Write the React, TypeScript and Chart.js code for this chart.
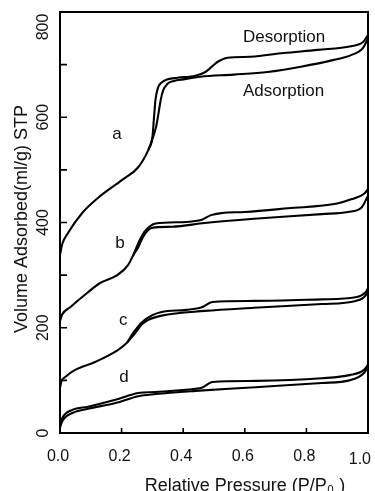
import React, { useEffect, useRef } from 'react';
import { Chart, registerables } from 'chart.js';

Chart.register(...registerables);

const FONT = '"Liberation Sans", Arial, Helvetica, sans-serif';

// Axis
const xMin = 0;
const xMax = 1;
const xStep = 0.2;
const yMin = 0;
const yMax = 800;
const yStep = 100;
const yLabelEvery = 200;
const xTitle = 'Relative Pressure (P/P\u2080 )';
const yTitle = 'Volume Adsorbed(ml/g) STP';

// Sample a
const aAdsX = [0, 0.008, 0.026, 0.072, 0.124, 0.202, 0.254, 0.287, 0.3, 0.312, 0.32, 0.327, 0.335, 0.348, 0.37, 0.4, 0.456, 0.564, 0.674, 0.782, 0.889, 0.945, 0.984, 1.0];
const aAdsY = [339, 360, 380, 418, 447, 481, 505, 538, 559, 582, 608, 633, 651, 663, 669, 672, 677, 681, 686, 696, 709, 718, 732, 750];
const aDesX = [0.287, 0.3, 0.305, 0.31, 0.318, 0.33, 0.35, 0.381, 0.44, 0.472, 0.489, 0.511, 0.544, 0.619, 0.726, 0.837, 0.945, 0.984, 1.0];
const aDesY = [538, 562, 598, 633, 656, 666, 672, 675, 679, 686, 694, 705, 713, 715, 722, 728, 735, 743, 756];

// Sample b
const bAdsX = [0, 0.007, 0.033, 0.088, 0.13, 0.186, 0.221, 0.238, 0.255, 0.27, 0.285, 0.3, 0.365, 0.47, 0.63, 0.85, 0.935, 0.98, 1.0];
const bAdsY = [213, 225, 239, 266, 285, 300, 319, 338, 354, 373, 385, 390, 392, 399, 407, 416, 420, 429, 451];
const bDesX = [0.238, 0.25, 0.261, 0.274, 0.29, 0.31, 0.41, 0.46, 0.49, 0.526, 0.6, 0.74, 0.9, 0.945, 0.99, 1.0];
const bDesY = [338, 355, 369, 382, 392, 398, 401, 405, 414, 418, 420, 427, 436, 444, 456, 464];

// Sample c
const cAdsX = [0, 0.005, 0.016, 0.049, 0.114, 0.189, 0.218, 0.244, 0.267, 0.287, 0.33, 0.47, 0.63, 0.85, 0.96, 0.993, 1.0];
const cAdsY = [86, 99, 106, 120, 135, 158, 172, 190, 207, 215, 223, 232, 238, 245, 251, 262, 271];
const cDesX = [0.218, 0.24, 0.267, 0.3, 0.33, 0.41, 0.46, 0.495, 0.63, 0.85, 0.96, 0.993, 1.0];
const cDesY = [172, 192, 211, 224, 230, 234, 239, 249, 251, 254, 258, 268, 275];

// Sample d
const dAdsX = [0, 0.007, 0.04, 0.091, 0.18, 0.254, 0.31, 0.44, 0.635, 0.85, 0.94, 0.987, 1.0];
const dAdsY = [10, 22, 38, 46, 57, 70, 74, 80, 87, 95, 100, 114, 126];
const dDesX = [0, 0.007, 0.04, 0.091, 0.18, 0.254, 0.31, 0.44, 0.46, 0.495, 0.635, 0.85, 0.94, 0.987, 1.0];
const dDesY = [15, 28, 44, 50, 63, 76, 78, 84, 86, 97, 99, 104, 110, 120, 130];

// Text annotations (in data units)
const curveNames = ['a', 'b', 'c', 'd'];
const curveNameX = [0.185, 0.195, 0.205, 0.208];
const curveNameY = [568, 361, 215, 106];
const branchNames = ['Desorption', 'Adsorption'];
const branchNameX = [0.594, 0.594];
const branchNameY = [752, 650];

const seriesX = [aAdsX, aDesX, bAdsX, bDesX, cAdsX, cDesX, dAdsX, dDesX];
const seriesY = [aAdsY, aDesY, bAdsY, bDesY, cAdsY, cDesY, dAdsY, dDesY];
const seriesNames = ['a adsorption', 'a desorption', 'b adsorption', 'b desorption', 'c adsorption', 'c desorption', 'd adsorption', 'd desorption'];

const decorPlugin = {
  id: 'decor',
  afterDraw(chart: any) {
    const { ctx, chartArea: ca, scales } = chart;
    const xs = scales.x;
    const ys = scales.y;
    ctx.save();
    ctx.strokeStyle = '#000';
    ctx.lineWidth = 2;
    ctx.strokeRect(ca.left, ca.top, ca.right - ca.left, ca.bottom - ca.top);

    ctx.lineWidth = 1.6;
    ctx.beginPath();
    xs.ticks.forEach((t: any) => {
      const px = xs.getPixelForValue(t.value);
      ctx.moveTo(px, ca.bottom);
      ctx.lineTo(px, ca.bottom - 5);
    });
    ys.ticks.forEach((t: any) => {
      const py = ys.getPixelForValue(t.value);
      ctx.moveTo(ca.left, py);
      ctx.lineTo(ca.left + 7, py);
    });
    ctx.stroke();

    ctx.fillStyle = '#111';
    // x tick labels
    ctx.font = `16px ${FONT}`;
    ctx.textBaseline = 'alphabetic';
    xs.ticks.forEach((t: any, i: number, arr: any[]) => {
      const px = xs.getPixelForValue(t.value);
      const label = Number(t.value).toFixed(1);
      if (i === arr.length - 1) {
        ctx.textAlign = 'right';
        ctx.fillText(label, ca.right + 3, 464);
      } else {
        ctx.textAlign = 'center';
        ctx.fillText(label, px - 2, 461);
      }
    });
    // y tick labels (rotated)
    ys.ticks.forEach((t: any) => {
      if (t.value % yLabelEvery !== 0) return;
      let py = ys.getPixelForValue(t.value);
      py = Math.max(py, ca.top + 15);
      ctx.save();
      ctx.translate(44, py);
      ctx.rotate(-Math.PI / 2);
      ctx.textAlign = 'center';
      ctx.textBaseline = 'middle';
      ctx.fillText(String(t.value), 0, 0);
      ctx.restore();
    });
    // axis titles
    ctx.font = `18px ${FONT}`;
    ctx.textAlign = 'center';
    ctx.textBaseline = 'alphabetic';
    ctx.fillText(xTitle, 245, 491);
    ctx.save();
    ctx.translate(27, 219);
    ctx.rotate(-Math.PI / 2);
    ctx.fillText(yTitle, 0, 0);
    ctx.restore();

    // annotations
    ctx.font = `17px ${FONT}`;
    ctx.textBaseline = 'middle';
    ctx.textAlign = 'center';
    curveNames.forEach((n, i) => {
      ctx.fillText(n, xs.getPixelForValue(curveNameX[i]), ys.getPixelForValue(curveNameY[i]));
    });
    ctx.textAlign = 'left';
    branchNames.forEach((n, i) => {
      ctx.fillText(n, xs.getPixelForValue(branchNameX[i]), ys.getPixelForValue(branchNameY[i]));
    });
    ctx.restore();
  },
};

export default function App() {
  const ref = useRef<HTMLCanvasElement | null>(null);
  useEffect(() => {
    if (!ref.current) return;
    const datasets = seriesX.map((xsArr, k) => ({
      label: seriesNames[k],
      data: xsArr.map((x, i) => ({ x, y: seriesY[k][i] })),
      borderColor: '#000',
      backgroundColor: '#000',
      borderWidth: 2.1,
      pointRadius: 0,
      fill: false,
      tension: 0.4,
      cubicInterpolationMode: 'monotone' as const,
    }));
    const chart = new Chart(ref.current, {
      type: 'line',
      data: { datasets },
      options: {
        responsive: false,
        animation: false,
        devicePixelRatio: 1,
        layout: { padding: { top: 12, right: 7, left: 0, bottom: 0 } },
        plugins: {
          legend: { display: false },
          tooltip: { enabled: false },
        },
        scales: {
          x: {
            type: 'linear',
            min: xMin,
            max: xMax,
            ticks: { display: false, stepSize: xStep },
            grid: { display: false },
            border: { display: false },
            afterFit: (s: any) => {
              s.height = 58;
              s.paddingLeft = 0;
              s.paddingRight = 0;
            },
          },
          y: {
            type: 'linear',
            min: yMin,
            max: yMax,
            ticks: { display: false, stepSize: yStep },
            grid: { display: false },
            border: { display: false },
            afterFit: (s: any) => {
              s.width = 60;
              s.paddingTop = 0;
              s.paddingBottom = 0;
            },
          },
        },
      },
      plugins: [decorPlugin],
    });
    return () => chart.destroy();
  }, []);
  return (
    <div style={{ position: 'fixed', left: 0, top: 0, width: 375, height: 491, background: '#fff' }}>
      <canvas ref={ref} width={375} height={491} />
    </div>
  );
}
